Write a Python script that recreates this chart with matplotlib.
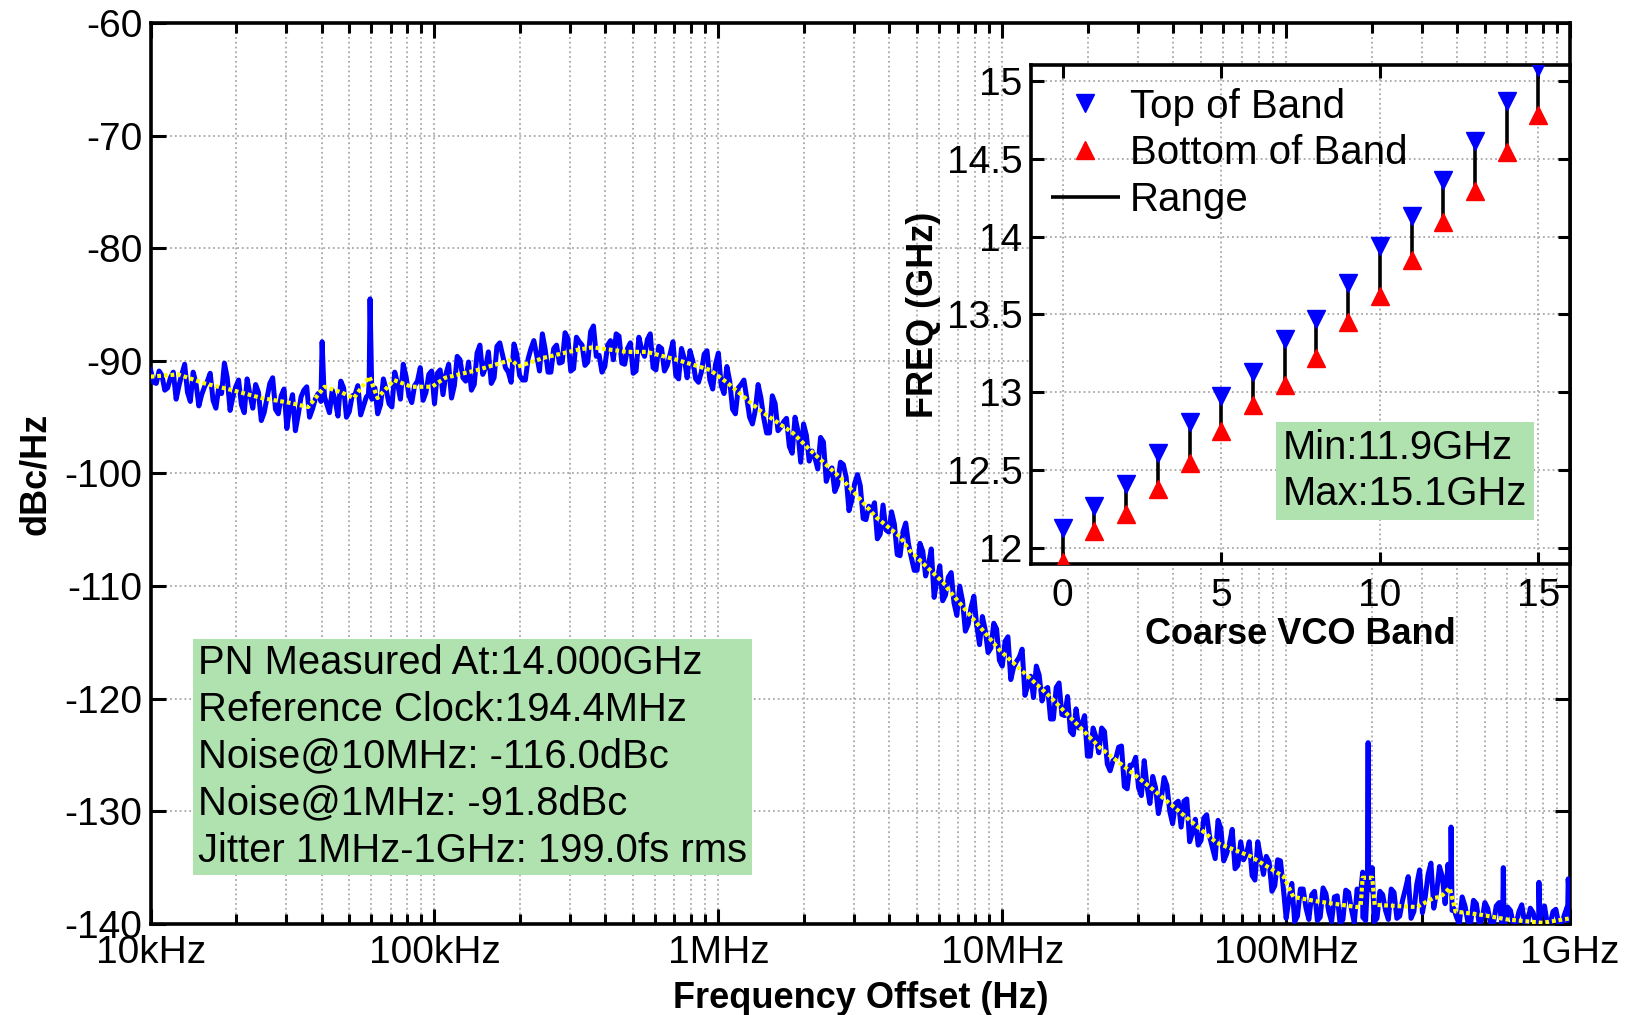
import numpy as np
import matplotlib
matplotlib.use('Agg')
import matplotlib.pyplot as plt
from matplotlib.ticker import LogLocator, NullFormatter

plt.rcParams['font.family'] = ['Liberation Sans', 'DejaVu Sans']
plt.rcParams['axes.unicode_minus'] = False

# measured phase noise, 50 points per decade, 10kHz .. 1GHz
pn_freq = np.logspace(4, 9, 251)
pn_dbc = [
    # 10k - 100k
    -90.8, -92.0, -91.3, -92.4, -91.0, -92.2, -90.3, -93.6, -92.0, -93.0,
    -91.8, -93.5, -92.4, -90.2, -94.4, -92.3, -93.9, -91.6, -94.2, -92.8,
    -94.6, -92.0, -94.3, -93.1, -96.0, -93.0, -94.8, -92.6, -95.0, -93.4,
    -93.6, -93.8, -92.6, -94.9, -92.4, -94.5, -93.0, -94.8, -93.2, -93.0,
    -94.7, -91.6, -93.8, -91.0, -93.4, -91.4, -93.7, -91.8, -93.5, -91.2,
    # 100k - 1M
    -93.8, -90.8, -91.2, -93.3, -89.6, -91.5, -90.1, -92.1, -88.6, -90.6,
    -92.0, -88.7, -89.5, -91.0, -88.5, -91.3, -91.7, -88.9, -89.5, -87.6,
    -91.0, -88.9, -90.2, -87.5, -90.9, -87.9, -88.6, -90.1, -86.9, -89.5,
    -90.5, -88.2, -87.6, -90.2, -88.9, -91.1, -87.9, -89.6, -87.6, -90.8,
    -88.9, -90.4, -88.3, -91.6, -89.8, -89.1, -91.6, -91.0, -89.1, -92.5,
    # 1M - 10M
    -89.3, -92.9, -91.8, -94.7, -92.1, -93.3, -95.6, -92.1, -95.1, -96.4,
    -93.8, -95.9, -95.1, -98.2, -96.2, -95.6, -98.9, -98.6, -96.8, -100.7,
    -99.5, -101.0, -99.2, -103.3, -100.9, -101.1, -104.1, -103.3, -105.8, -102.8,
    -105.2, -104.5, -107.3, -104.4, -107.5, -108.6, -106.9, -108.1, -111.0, -108.2,
    -110.8, -108.8, -112.6, -111.3, -113.4, -110.9, -115.2, -113.9, -115.5, -113.8,
    # 10M - 100M
    -117.1, -114.5, -117.2, -116.3, -119.7, -118.0, -117.1, -120.2, -119.0, -121.8,
    -118.6, -121.5, -122.9, -120.9, -122.3, -125.1, -122.6, -124.8, -122.9, -126.4,
    -125.3, -124.2, -128.0, -125.9, -127.9, -125.5, -129.3, -127.9, -128.9, -127.7,
    -131.1, -129.1, -129.1, -132.7, -130.7, -132.6, -130.3, -133.2, -130.8, -134.4,
    -132.9, -135.1, -132.7, -133.8, -135.7, -132.7, -135.6, -134.5, -136.6, -134.4,
    # 100M - 1G
    -139.5, -136.4, -139.3, -136.9, -139.6, -137.1, -139.4, -137.3, -139.8, -137.5,
    -139.6, -137.2, -139.9, -137.8, -139.7, -137.0, -139.5, -137.4, -139.6, -137.2,
    -139.3, -136.9, -139.5, -136.5, -139.0, -135.6, -138.6, -134.9, -138.2, -135.3,
    -139.4, -137.6, -139.8, -137.9, -140.0, -138.1, -140.0, -138.4, -140.0, -138.5,
    -140.0, -138.9, -140.0, -138.6, -140.0, -138.7, -140.0, -138.9, -140.0, -139.2,
    -138.8,
]

# the sweep points that fall between the ones above
pn_freq_mid = np.logspace(4.01, 8.99, 250)
pn_dbc_mid = [
    # 10k - 100k
    -91.9, -90.9, -92.6, -91.5, -93.4, -91.2, -92.8, -91.0, -94.0, -92.3,
    -91.1, -94.2, -92.9, -91.5, -93.2, -91.7, -94.6, -93.0, -92.1, -95.3,
    -93.3, -91.5, -94.7, -92.5, -94.1, -96.2, -93.2, -92.3, -94.3, -92.9,
    -92.2, -94.6, -93.5, -91.8, -95.0, -93.1, -92.2, -94.0, -91.8, -92.4,
    -93.9, -92.6, -94.1, -92.0, -90.3, -93.1, -92.2, -90.6, -92.8, -90.9,
    # 100k - 1M
    -91.1, -93.0, -90.3, -92.2, -89.9, -91.8, -92.6, -89.3, -91.2, -89.2,
    -91.5, -88.4, -90.6, -91.9, -89.4, -91.7, -89.8, -88.2, -90.9, -89.0,
    -91.0, -88.6, -90.1, -88.0, -90.7, -88.3, -90.4, -87.4, -89.6, -91.0,
    -88.6, -89.9, -87.8, -90.3, -88.4, -90.9, -89.0, -88.1, -90.6, -88.7,
    -90.9, -89.4, -91.3, -88.9, -91.5, -90.0, -91.9, -89.4, -91.7, -90.3,
    # 1M - 10M
    -92.2, -90.5, -94.3, -92.4, -91.7, -95.0, -94.4, -93.3, -96.4, -93.1,
    -96.2, -95.4, -97.6, -95.0, -99.0, -96.6, -98.0, -99.6, -97.2, -99.9,
    -101.6, -99.0, -100.3, -102.4, -100.1, -104.0, -102.9, -102.6, -105.4, -105.0,
    -103.4, -107.2, -105.2, -106.3, -108.6, -106.2, -109.1, -106.7, -109.5, -111.3,
    -109.2, -111.5, -110.0, -114.0, -111.9, -113.5, -112.7, -115.9, -113.3, -116.6,
    # 10M - 100M
    -114.9, -118.3, -116.7, -115.6, -118.8, -119.9, -117.9, -119.2, -121.8, -119.0,
    -121.4, -119.8, -123.2, -122.6, -121.5, -125.1, -123.4, -122.6, -125.8, -125.5,
    -124.3, -127.8, -125.9, -125.2, -128.6, -127.8, -126.9, -130.2, -127.0, -130.0,
    -129.3, -131.4, -128.9, -131.9, -133.0, -130.6, -132.2, -134.2, -131.5, -133.8,
    -131.6, -134.8, -134.3, -132.7, -136.1, -134.1, -134.0, -137.1, -134.3, -136.8,
    # 100M - 1G
    -137.8, -139.8, -136.9, -138.6, -137.4, -139.7, -136.8, -138.9, -137.6, -140.0,
    -137.0, -138.7, -136.9, -139.4, -136.6, -139.8, -137.1, -138.8, -136.9, -139.5,
    -137.9, -135.8, -138.9, -135.2, -137.6, -134.6, -137.2, -135.8, -134.7, -138.6,
    -140.0, -138.4, -139.9, -138.2, -139.6, -138.6, -140.0, -138.1, -140.0, -138.8,
    -140.0, -138.3, -140.0, -139.0, -140.0, -138.4, -140.0, -138.7, -140.0, -138.5,
]

# spurs
spur_freq = [39.5e3, 40.2e3, 41.0e3, 58.5e3, 59.3e3, 60.2e3,
             186e6, 193.5e6, 194.4e6, 195.5e6, 201e6,
             379e6, 381e6, 384e6, 579e6, 582e6, 585e6,
             773e6, 777e6, 781e6, 980e6, 985e6]
spur_dbc = [-93.0, -88.3, -93.2, -93.0, -84.5, -93.4,
            -135.4, -136.2, -123.9, -136.0, -135.0,
            -137.0, -131.4, -138.8, -139.6, -135.0, -139.8,
            -139.8, -136.3, -140.0, -139.7, -136.0]

# smoothed trace
avg_freq = [10e3, 12.5e3, 15.5e3, 19.4e3, 24.6e3, 30.6e3, 35.9e3, 41e3, 47e3,
            52e3, 59e3, 63e3, 72e3, 83e3, 98e3, 109e3, 142e3, 187e3, 197e3,
            245e3, 321e3, 361e3, 476e3, 560e3, 713e3, 933e3, 1.07e6, 1.4e6,
            1.83e6, 2.1e6, 2.75e6, 3.6e6, 4.36e6, 4.7e6, 6.2e6, 6.5e6, 9.8e6,
            14.7e6, 22e6, 33e6, 50e6, 57e6, 75e6, 98e6, 106e6, 129e6, 178e6,
            183e6, 186e6, 201e6, 205e6, 289e6, 330e6, 350e6, 377e6, 395e6,
            490e6, 600e6, 800e6, 1e9]
avg_dbc = [-91.4, -91.2, -92.0, -92.6, -93.3, -93.7, -94.1, -92.3, -92.8,
           -93.3, -91.4, -93.3, -91.7, -92.3, -92.3, -91.5, -90.8, -89.9, -90.5,
           -89.7, -89.0, -88.8, -89.2, -89.2, -89.9, -90.8, -91.9, -94.4,
           -96.4, -97.9, -100.6, -103.9, -105.6, -106.8, -109.7, -110.4, -115.7,
           -119.8, -124.3, -127.8, -131.6, -132.8, -134.0, -135.8, -137.6, -138.0, -138.5,
           -138.4, -135.9, -135.9, -138.3, -138.5, -137.7, -137.6, -136.8, -138.9,
           -139.2, -139.6, -139.9, -139.5]

# coarse VCO bands
band = np.arange(16)
band_top = [12.13, 12.27, 12.41, 12.61, 12.81, 12.98, 13.13, 13.34, 13.47,
            13.70, 13.94, 14.13, 14.36, 14.61, 14.87, 15.09]
band_bot = [11.91, 12.11, 12.22, 12.38, 12.55, 12.75, 12.92, 13.05, 13.22,
            13.45, 13.62, 13.85, 14.09, 14.29, 14.54, 14.78]

info_text = ('PN Measured At:14.000GHz\nReference Clock:194.4MHz\n'
             'Noise@10MHz: -116.0dBc\nNoise@1MHz: -91.8dBc\n'
             'Jitter 1MHz-1GHz: 199.0fs rms')
green = '#b0e2b0'
fs = 28
fs_txt = 28.8
fs_lab = 26

# merge everything into one sweep
f_all = np.concatenate([pn_freq, pn_freq_mid, spur_freq])
v_all = np.concatenate([pn_dbc, pn_dbc_mid, spur_dbc])
order = np.argsort(f_all)
f_all = f_all[order]
v_all = v_all[order]

fig = plt.figure(figsize=(16.28, 10.15), dpi=100)
ax = fig.add_axes([0.0925, 0.0897, 0.8719, 0.8876])

ax.semilogx(f_all, v_all, color='#0000ff', lw=3.6, zorder=3)
ax.semilogx(avg_freq, avg_dbc, color='#ffff00', lw=3.0, ls=(0, (0.9, 0.7)), zorder=4)

ax.set_xlim(1e4, 1e9)
ax.set_ylim(-140, -60)
ax.set_xticks([1e4, 1e5, 1e6, 1e7, 1e8, 1e9])
ax.set_xticklabels(['10kHz', '100kHz', '1MHz', '10MHz', '100MHz', '1GHz'])
ax.xaxis.set_minor_locator(LogLocator(base=10, subs=np.arange(2, 10)))
ax.xaxis.set_minor_formatter(NullFormatter())
ax.set_yticks(np.arange(-140, -59, 10))
ax.tick_params(which='both', direction='in', top=True, right=True, labelsize=fs)
ax.tick_params(axis='x', pad=8)
ax.tick_params(axis='y', pad=6)
ax.tick_params(which='major', length=11, width=2.2)
ax.tick_params(which='minor', length=7, width=2.2)
ax.grid(True, which='major', color='#a8a8a8', ls=':', lw=1.3)
ax.grid(True, which='minor', axis='x', color='#a8a8a8', ls=':', lw=1.3)
for s in ax.spines.values():
    s.set_linewidth(2.6)
ax.set_xlabel('Frequency Offset (Hz)', fontsize=fs_lab, fontweight='bold', labelpad=7)
ax.set_ylabel('dBc/Hz', fontsize=fs_lab, fontweight='bold', labelpad=8)

ax.text(0.0334, 0.311, info_text, transform=ax.transAxes, fontsize=fs_txt,
        va='top', ha='left', linespacing=1.3, zorder=6,
        bbox=dict(facecolor=green, edgecolor='none', pad=3.5))

# inset: VCO band coverage
ins = fig.add_axes([0.6333, 0.4443, 0.3311, 0.4917])
ins.vlines(band, band_bot, band_top, color='black', lw=2.6, zorder=3, label='Range')
ins.plot(band, band_top, 'v', color='#0000ff', ms=13, ls='none', zorder=4, label='Top of Band')
ins.plot(band, band_bot, '^', color='#ff0000', ms=13, ls='none', zorder=4, label='Bottom of Band')
ins.set_xlim(-1, 16)
ins.set_ylim(11.9, 15.1)
ins.set_xticks([0, 5, 10, 15])
ins.set_yticks([12, 12.5, 13, 13.5, 14, 14.5, 15])
ins.set_yticklabels(['12', '12.5', '13', '13.5', '14', '14.5', '15'])
ins.tick_params(direction='in', top=True, right=True, labelsize=fs, length=9, width=2.2)
ins.tick_params(axis='x', pad=10)
ins.tick_params(axis='y', pad=6)
ins.grid(True, color='#a8a8a8', ls=':', lw=1.3)
for s in ins.spines.values():
    s.set_linewidth(2.6)
ins.set_xlabel('Coarse VCO Band', fontsize=fs_lab, fontweight='bold', labelpad=2)
ins.set_ylabel('FREQ (GHz)', fontsize=fs_lab, fontweight='bold', labelpad=4)

h, l = ins.get_legend_handles_labels()
ins.legend([h[1], h[2], h[0]], [l[1], l[2], l[0]], loc='upper left',
           bbox_to_anchor=(0.0, 0.995), frameon=False, fontsize=29,
           handlelength=1.7, handletextpad=0.25, labelspacing=0.22,
           borderaxespad=0.2, borderpad=0.3)

ins.text(0.4675, 0.27, 'Min:11.9GHz\nMax:15.1GHz', transform=ins.transAxes,
         fontsize=fs_txt, va='top', ha='left', linespacing=1.25, zorder=6,
         bbox=dict(facecolor=green, edgecolor='none', pad=5))

fig.savefig('out.png', dpi=100)
